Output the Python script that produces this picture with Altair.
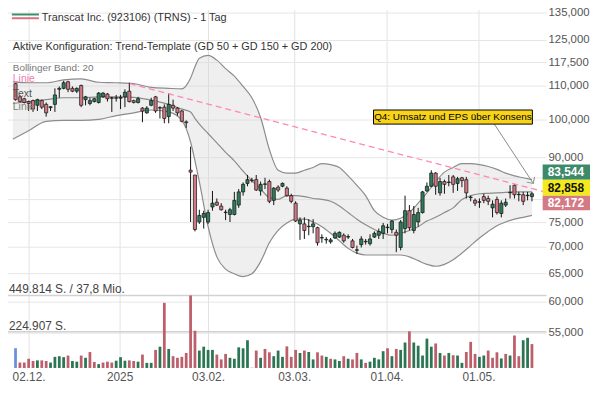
import altair as alt
import pandas as pd

# ---------------- data ----------------
opens = [
    110.74, 106.73, 106.17, 105.33, 105.61, 104.23, 105.61, 104.50, 103.54, 104.50,
    109.01, 109.30, 111.33, 109.30, 108.43, 110.17, 105.89, 104.76, 105.33, 105.05,
    106.73, 107.58, 106.31, 106.45, 106.31, 106.73, 108.43, 105.61, 105.05, 103.41,
    102.04, 104.23, 106.73, 103.41, 103.68, 100.98, 104.23, 103.41, 102.58, 99.50,
    86.88, 85.72, 75.13, 76.12, 75.13, 78.36, 79.41, 78.57, 77.14, 76.73,
    76.73, 78.78, 81.75, 83.72, 84.38, 84.61, 81.97, 83.50, 84.16, 79.83,
    82.83, 83.05, 82.62, 80.89, 79.20, 74.73, 74.73, 74.15, 74.15, 73.95,
    71.83, 71.45, 71.07, 71.83, 72.02, 72.39, 72.02, 71.26, 69.40, 70.51,
    71.07, 70.70, 72.02, 72.39, 72.78, 73.95, 73.56, 72.98, 69.95, 73.76,
    77.55, 73.37, 75.13, 77.14, 81.97, 83.05, 86.18, 81.53, 84.16, 83.94,
    85.27, 83.72, 85.05, 84.61, 80.46, 79.83, 79.41, 80.68, 80.25, 78.17,
    80.04, 76.94, 78.78, 81.53, 83.28, 81.10, 81.10, 80.89, 80.68,
]
highs = [
    110.90, 107.30, 106.45, 105.61, 105.89, 106.17, 105.89, 105.05, 103.95, 109.30,
    109.88, 111.63, 111.63, 109.88, 109.59, 110.46, 107.01, 106.45, 106.45, 108.14,
    108.14, 107.86, 106.73, 107.30, 107.30, 109.01, 111.04, 105.89, 106.73, 103.68,
    103.95, 106.45, 107.01, 103.95, 104.50, 107.86, 105.89, 103.68, 102.86, 99.91,
    92.80, 85.72, 77.76, 77.55, 77.76, 81.97, 80.25, 79.20, 77.76, 78.17,
    81.75, 82.40, 83.94, 85.72, 85.05, 85.72, 84.16, 85.05, 84.61, 82.83,
    83.28, 83.94, 83.05, 81.32, 79.62, 76.12, 76.12, 75.73, 75.73, 74.15,
    72.58, 72.02, 71.83, 73.17, 73.17, 72.78, 72.58, 71.64, 70.32, 72.20,
    71.64, 72.58, 73.17, 73.76, 74.93, 74.73, 75.53, 73.56, 75.53, 80.89,
    78.78, 78.57, 78.17, 81.97, 83.94, 86.86, 86.41, 85.05, 84.61, 85.72,
    85.72, 85.27, 85.27, 85.27, 80.89, 80.25, 80.25, 81.32, 80.89, 79.83,
    80.68, 79.83, 80.25, 83.28, 83.50, 81.75, 81.75, 81.75, 81.75,
]
lows = [
    105.61, 105.05, 104.76, 102.58, 102.31, 102.58, 103.13, 100.98, 102.58, 102.31,
    106.45, 109.01, 108.14, 108.14, 107.86, 103.68, 104.23, 104.23, 105.05, 104.76,
    106.45, 105.33, 102.31, 105.33, 103.13, 103.68, 105.05, 104.76, 104.76, 99.38,
    101.78, 103.95, 102.04, 100.45, 99.11, 99.11, 102.58, 101.25, 99.38, 97.84,
    75.13, 73.17, 74.73, 73.76, 74.73, 77.55, 78.57, 77.55, 75.53, 75.13,
    76.53, 78.17, 80.89, 83.05, 83.94, 81.97, 80.89, 82.40, 79.20, 78.78,
    81.75, 82.83, 80.68, 79.20, 75.13, 71.45, 71.64, 72.39, 72.78, 70.32,
    70.88, 70.70, 70.70, 71.64, 71.83, 70.88, 71.64, 69.77, 68.67, 69.95,
    70.51, 70.32, 71.83, 71.64, 71.64, 72.78, 72.78, 69.03, 69.40, 72.78,
    73.37, 72.78, 74.15, 76.94, 81.75, 82.83, 81.10, 80.89, 81.32, 83.05,
    81.53, 81.97, 82.83, 80.25, 79.62, 78.57, 78.17, 79.20, 78.78, 76.12,
    76.73, 76.12, 78.36, 80.25, 80.25, 79.62, 78.78, 79.83, 79.62,
]
closes = [
    105.89, 105.33, 105.05, 104.76, 103.13, 105.89, 103.68, 102.04, 103.82, 107.30,
    109.30, 111.04, 109.01, 108.43, 109.30, 104.23, 106.73, 105.61, 106.17, 107.86,
    107.86, 106.17, 106.45, 106.31, 106.59, 108.14, 105.33, 105.05, 106.17, 102.58,
    103.41, 105.61, 102.58, 103.54, 100.45, 104.50, 103.41, 102.04, 99.65, 99.25,
    86.41, 73.56, 76.53, 76.94, 77.14, 79.20, 78.78, 77.76, 77.24, 77.76,
    79.83, 81.75, 83.50, 84.61, 84.50, 82.18, 83.50, 83.61, 79.62, 82.62,
    82.18, 83.72, 80.89, 79.62, 75.33, 75.53, 73.37, 74.25, 74.73, 70.88,
    71.93, 71.55, 71.45, 72.78, 72.98, 71.26, 72.12, 69.95, 69.49, 71.64,
    71.17, 71.64, 72.78, 73.17, 74.34, 74.05, 75.33, 72.39, 75.13, 77.55,
    73.95, 76.73, 77.14, 81.75, 83.05, 86.18, 83.05, 84.16, 83.50, 84.05,
    83.50, 84.83, 84.38, 81.53, 80.57, 79.20, 79.51, 79.83, 79.62, 78.99,
    77.14, 79.20, 79.41, 81.64, 81.10, 81.21, 79.62, 81.00, 81.32,
]
# volume in thousands of shares
volumes_k = [
    122.5, 33.5, 33.5, 57, 43, 47, 47, 43, 33.5, 69,
    73, 67, 77, 43, 39, 77, 63, 98.6, 37, 23.7,
    33.5, 39, 33.5, 45, 67, 45, 47, 43, 39, 83,
    31.6, 31.6, 112, 132, 404, 118, 73, 63, 69, 93,
    449.8, 231, 108, 132, 112, 112, 83, 53, 87, 63,
    57, 128, 122, 172, 3, 108, 63, 118, 97, 73,
    108, 69, 134, 69, 112, 93, 108, 99, 53, 97,
    77, 69, 57, 53, 43, 73, 57, 53, 93, 53,
    31.6, 39, 63, 53, 104, 122, 73, 118, 112, 158,
    227, 158, 138, 77, 182, 132, 152, 93, 77, 93,
    79, 77, 31.6, 99, 162, 87, 69, 77, 108, 63,
    97, 59, 87, 77, 201, 73, 172, 187, 148,
]
volume_dir = list(
    "brrrrgrrgg" "ggrggrgrrg" "rrrgggrrgr" "ggrgrgrrrr" "rrggggrrrg"
    "ggggnrgrrg" "ggrrrgrggr" "rgrggrgrrg" "rggggrgrgg" "rgggggrgrg"
    "rggrrrggrr" "rgrgrrggr"
)

band_k = [-0.6, 3, 7, 11, 15, 19, 23, 27, 31, 35,
          38, 40, 41, 42, 44, 46, 48, 50, 52, 54,
          56, 58, 60, 62, 64, 66, 68, 70, 72, 74, 76, 78, 80, 82, 84, 86,
          88, 90, 92, 94, 96, 98, 100, 102, 104, 106, 108, 110, 112, 114, 116, 118]
band_upper = [111.33, 111.04, 111.04, 111.92, 112.22, 111.18, 111.04, 110.74, 109.59, 109.30,
              109.16, 112.52, 116.13, 118.93, 119.87, 118.30, 115.52, 113.11, 109.88, 106.45,
              100.71, 92.06, 86.86, 86.18, 86.18, 86.86, 87.55, 88.49, 88.26, 87.55, 85.50, 83.28,
              80.89, 77.55, 76.12, 75.53, 75.93, 77.14, 79.20, 81.53, 84.16, 86.41, 87.55, 88.49,
              88.49, 88.26, 87.79, 87.09, 86.18, 85.50, 85.05, 84.61]
band_mid = [104.76, 105.33, 105.89, 106.45, 106.45, 106.73, 106.73, 106.59, 105.75, 104.50,
            103.13, 102.31, 100.45, 98.87, 96.30, 93.78, 91.35, 89.19, 86.64, 84.38,
            82.40, 80.46, 80.04, 80.89, 80.89, 80.68, 80.25, 80.04, 79.62, 78.57, 77.14, 75.73,
            74.53, 73.56, 72.78, 72.39, 72.78, 73.37, 74.14, 75.33, 76.12, 77.14, 78.17, 80.04,
            80.89, 81.32, 81.43, 81.53, 81.64, 81.75, 81.75, 81.75]
band_lower = [94.78, 97.05, 99.65, 99.91, 99.91, 100.18, 101.25, 102.04, 102.86, 102.31,
              99.91, 94.03, 89.19, 84.16, 74.14, 68.13, 65.83, 64.97, 64.46, 64.97,
              67.23, 70.88, 73.37, 74.93, 75.73, 75.73, 75.13, 74.14, 72.78, 71.26, 69.77, 68.85,
              68.49, 68.49, 68.49, 68.49, 68.49, 68.13, 67.41, 66.71, 66.36, 66.71, 67.59, 68.85,
              70.32, 71.83, 73.17, 74.34, 75.13, 75.73, 76.12, 76.53]

date_ticks = [3.1, 23.9, 44.1, 63.8, 84.9, 105.9]
date_labels = ["02.12.", "2025", "03.02.", "03.03.", "01.04.", "01.05."]
price_ticks = [55, 60, 65, 70, 75, 90, 100, 110, 117.5, 125, 135]
price_grid = [55, 60, 65, 70, 75, 80, 85, 90, 100, 110, 117.5, 125, 135]
vol_lines = [449814, 224907]
vol_line_labels = ["449.814 S. / 37,8 Mio.", "224.907 S."]

trend_k = [26.1, 129.1]
trend_p = [110.76, 79.62]

note_text = "Q4: Umsatz und EPS über Konsens"
note_k = [81.8, 118.1]
note_p = [102.86, 98.87]
note_center = (99.95, 100.85)
arrow_k = [109.4, 118.3]
arrow_p = [98.87, 83.72]

quote_labels = ["83,544", "82,858", "82,172"]
quote_top = [88.26, 84.61, 80.89]
quote_bottom = [84.61, 80.89, 77.65]
quote_mid = [86.4, 82.7, 79.2]

# ---------------- layout ----------------
W, H = 545, 362
RIGHT = 44
SX, SY = W / 557.0, H / 380.0
XDOM = [-0.59, 120.2]
YDOM = [49.89, 136.07]
VDOM = [0, 2219837]
FONT = "Liberation Sans"

GREEN = "#2f7d5c"
RED = "#d27884"

xs = alt.Scale(domain=XDOM, nice=False, zero=False)
ys = alt.Scale(type="log", domain=YDOM, nice=False)
vs = alt.Scale(domain=VDOM, nice=False, zero=True)


def xq(field):
    return alt.X(field, type="quantitative", scale=xs, axis=None)


def yq(field):
    return alt.Y(field, type="quantitative", scale=ys, axis=None)


n = len(opens)
candles = pd.DataFrame({"k": list(range(n)), "o": opens, "h": highs, "l": lows, "c": closes})
candles["dir"] = ["up" if c >= o else "down" for o, c in zip(opens, closes)]
vol = pd.DataFrame({"k": list(range(n)), "v": [v * 1000 for v in volumes_k], "d": volume_dir})
bands = pd.DataFrame({"k": band_k, "up": band_upper, "mid": band_mid, "lo": band_lower})

one = pd.DataFrame({"a": [0]})

date_grid = alt.Chart(pd.DataFrame({"k": date_ticks})).mark_rule(
    color="#e2e2e2", strokeWidth=1).encode(x=xq("k"))
price_grid_layer = alt.Chart(pd.DataFrame({"p": price_grid})).mark_rule(
    color="#e6e6e6", strokeWidth=1).encode(y=yq("p"))

price_lab_df = pd.DataFrame({"p": price_ticks,
                             "t": [f"{v:.3f}".replace(".", ",") for v in price_ticks]})
price_labels = alt.Chart(price_lab_df).mark_text(
    align="left", baseline="middle", fontSize=11.5, color="#555555", font=FONT).encode(
    x=alt.value(W + 2), y=yq("p"), text="t:N")
date_labels_layer = alt.Chart(pd.DataFrame({"k": date_ticks, "t": date_labels})).mark_text(
    align="center", baseline="middle", fontSize=12, color="#555555", font=FONT).encode(
    x=xq("k"), y=alt.value(H + 9), text="t:N")

band_area = alt.Chart(bands).mark_area(color="#d6d6d6", opacity=0.38, interpolate="monotone").encode(
    x=xq("k"), y=yq("up"), y2="lo")
band_lines = [
    alt.Chart(bands).mark_line(color="#8c8c8c", strokeWidth=1.2, interpolate="monotone").encode(
        x=xq("k"), y=yq(f))
    for f in ["up", "mid", "lo"]
]

wicks = alt.Chart(candles).mark_rule(color="#111111", strokeWidth=1).encode(
    x=xq("k"), y=yq("l"), y2="h")
bodies = []
for d, col in [("up", GREEN), ("down", RED)]:
    bodies.append(
        alt.Chart(candles[candles["dir"] == d]).mark_bar(
            size=3.2, color=col, stroke="#111111", strokeWidth=0.7).encode(
            x=xq("k"), y=yq("o"), y2="c")
    )

trend = alt.Chart(pd.DataFrame({"k": trend_k, "p": trend_p})).mark_line(
    color="#ff86b9", strokeWidth=1.3, strokeDash=[6, 4], clip=False).encode(x=xq("k"), y=yq("p"))

note_df = pd.DataFrame({"k1": [note_k[0]], "k2": [note_k[1]], "p1": [note_p[0]], "p2": [note_p[1]],
                        "km": [note_center[0]], "pm": [note_center[1]], "t": [note_text]})
note_box = alt.Chart(note_df).mark_rect(fill="#f7d31a", stroke="#000000", strokeWidth=1).encode(
    x=xq("k1"), x2="k2", y=yq("p1"), y2="p2")
note_txt = alt.Chart(note_df).mark_text(fontSize=10, color="#000000", font=FONT).encode(
    x=xq("km"), y=yq("pm"), text="t:N")
arrow = alt.Chart(pd.DataFrame({"k": arrow_k, "p": arrow_p})).mark_line(
    color="#8a8a8a", strokeWidth=1, clip=False).encode(x=xq("k"), y=yq("p"))
arrow_head = alt.Chart(pd.DataFrame({"k": arrow_k[1:], "p": arrow_p[1:]})).mark_point(
    shape="M-1,-1L0,0L1,-1", filled=False, color="#8a8a8a", strokeWidth=1, size=90, angle=326,
    opacity=1, clip=False).encode(x=xq("k"), y=yq("p"))

quote_df = pd.DataFrame({"top": quote_top, "bot": quote_bottom, "mid": quote_mid, "t": quote_labels})
quote_layers = []
for i, (fill, tcol) in enumerate([("#3d8a6b", "white"), ("#f2ea1c", "#111111"), ("#d37a86", "white")]):
    sub = quote_df.iloc[[i]]
    quote_layers.append(
        alt.Chart(sub).mark_rect(fill=fill).encode(
            x=alt.value(553 * SX), x2=alt.value(W + RIGHT), y=yq("top"), y2="bot"))
    quote_layers.append(
        alt.Chart(sub).mark_text(fontSize=12, fontWeight="bold", color=tcol, font=FONT).encode(
            x=alt.value(576 * SX + 1), y=yq("mid"), text="t:N"))


def label(txt, x, y, size, color, weight="normal"):
    return alt.Chart(pd.DataFrame({"t": [txt]})).mark_text(
        align="left", baseline="middle", fontSize=size, color=color, fontWeight=weight,
        font=FONT).encode(x=alt.value(x * SX), y=alt.value(y * SY), text="t:N")


headers = [
    alt.Chart(one).mark_rule(color="#3a8f6a", strokeWidth=2).encode(
        x=alt.value(4 * SX), x2=alt.value(32 * SX), y=alt.value(4.5 * SY)),
    alt.Chart(one).mark_rule(color="#d9707f", strokeWidth=2).encode(
        x=alt.value(4 * SX), x2=alt.value(32 * SX), y=alt.value(8.5 * SY)),
    label("Transcat Inc. (923106) (TRNS) - 1 Tag", 35, 8, 11, "#333333"),
    label("Aktive Konfiguration: Trend-Template (GD 50 + GD 150 + GD 200)", 5, 39, 11, "#333333"),
    label("Bollinger Band: 20", 5, 61, 10, "#777777"),
    label("Linie", 5, 73.5, 10.5, "#f07cb0"),
    label("Text", 5, 89, 10.5, "#555555"),
    label("Linie", 5, 103, 10.5, "#808080"),
]

price_layer = alt.layer(
    date_grid, price_grid_layer, band_area, *band_lines, wicks, *bodies, trend,
    arrow, arrow_head, note_box, note_txt, price_labels, date_labels_layer,
    *quote_layers, *headers,
)

vol_rules = alt.Chart(pd.DataFrame({"v": vol_lines})).mark_rule(color="#d2d2d2", strokeWidth=1.5).encode(
    y=alt.Y("v:Q", scale=vs, axis=None))
vol_bars = []
for d, col in [("g", "#2b7553"), ("r", "#bd5e6b"), ("b", "#6e90d8"), ("n", "#b0b0b0")]:
    vol_bars.append(
        alt.Chart(vol[vol["d"] == d]).mark_bar(size=2.8, color=col).encode(
            x=xq("k"), y=alt.Y("v:Q", scale=vs, axis=None))
    )
vol_text = alt.Chart(pd.DataFrame({"v": vol_lines, "t": vol_line_labels})).mark_text(
    align="left", baseline="bottom", dx=1, dy=1, fontSize=12, color="#444444", font=FONT).encode(
    x=alt.value(0), y=alt.Y("v:Q", scale=vs, axis=None), text="t:N")
vol_layer = alt.layer(vol_rules, *vol_bars, vol_text)

chart = alt.layer(price_layer, vol_layer).resolve_scale(y="independent").properties(
    width=W, height=H,
    autosize=alt.AutoSizeParams(type="none"),
    padding={"left": 0, "top": 0, "right": RIGHT, "bottom": 17},
).configure(font=FONT, background="white").configure_view(stroke=None)

chart.save("out.html", embed_options={"renderer": "svg", "actions": False})
